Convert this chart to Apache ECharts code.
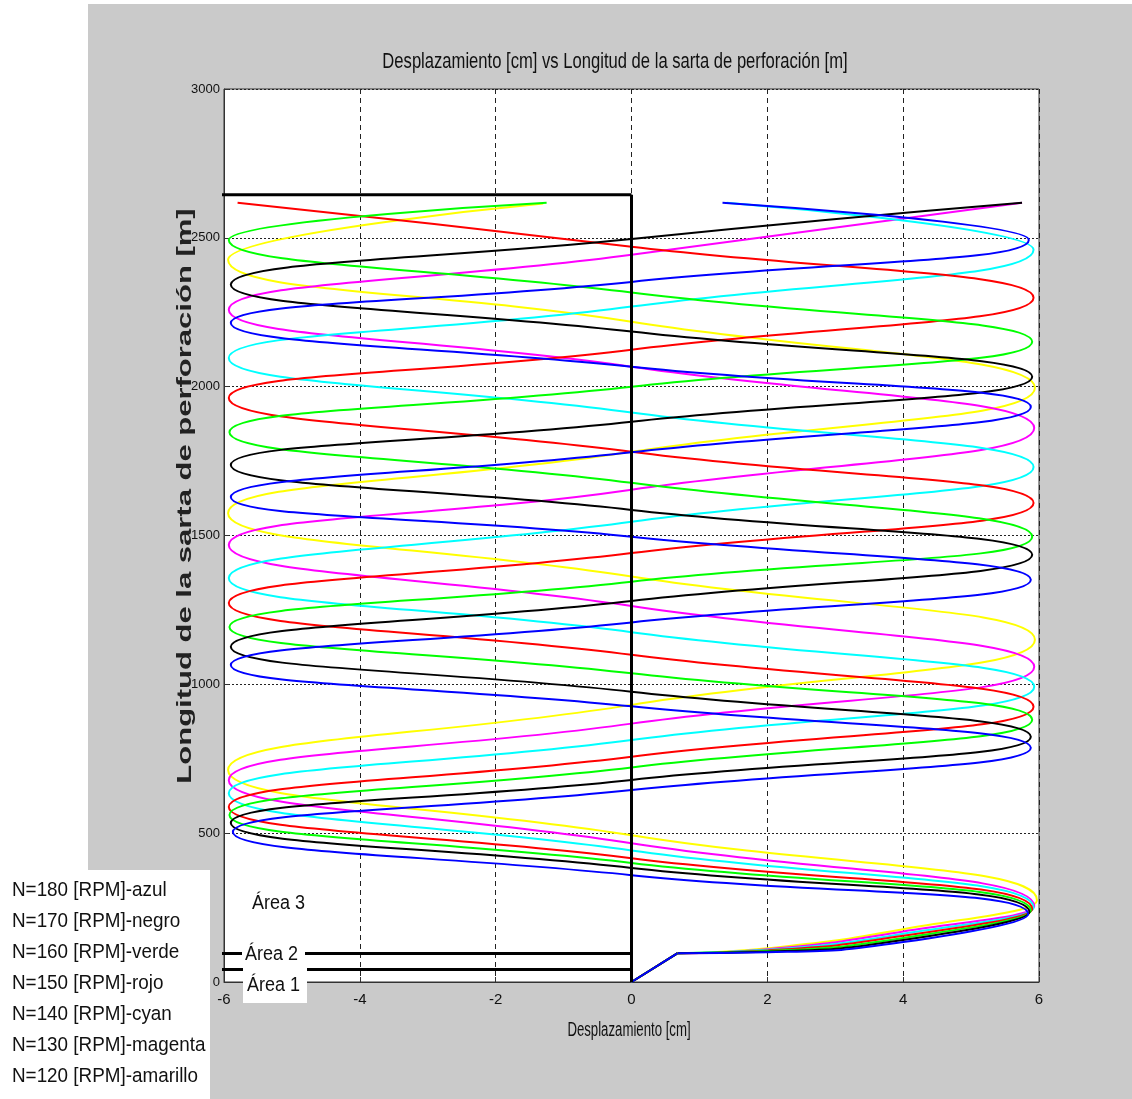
<!DOCTYPE html>
<html>
<head>
<meta charset="utf-8">
<script src="https://cdn.jsdelivr.net/npm/echarts@6/dist/echarts.min.js"></script>
<style>html,body{margin:0;padding:0;background:#fff}#c{width:1132px;height:1099px}</style>
</head>
<body>
<div id="c"></div>
<script>
// ---- data ----
const ticksX = [-6, -4, -2, 0, 2, 4, 6];
const ticksY = [0, 500, 1000, 1500, 2000, 2500, 3000];

const rpm = [120, 130, 140, 150, 160, 170, 180];
const nombresColor = ['amarillo', 'magenta', 'cyan', 'rojo', 'verde', 'negro', 'azul'];
const colores = ['#ffff00', '#ff00ff', '#00ffff', '#ff0000', '#00ff00', '#000000', '#0000ff'];

// linear start of every curve (Área 1 / Área 2)
const rampa = [[0, 0], [0.68, 97]];

// [displacement cm, length m]
const amarillo = [[0.68,97],[2,113],[4,177],[5.97,275],[0,493],[-5.94,712],[0,931],[5.94,1150],[0,1362],[-5.94,1575],[0,1781],[5.94,1996],[0,2218],[-5.94,2426],[-1.3,2615]];
const magenta = [[0.68,97],[2,110],[4,170],[5.93,255],[0,466],[-5.93,678],[0,868],[5.93,1059],[0,1263],[-5.93,1468],[0,1654],[5.93,1861],[0,2067],[-5.93,2258],[0,2443],[5.75,2618]];
const cyan = [[0.68,97],[2,108],[4,162],[5.92,250],[0,442],[-5.93,634],[0,813],[5.93,992],[0,1175],[-5.93,1357],[0,1546],[5.92,1730],[0,1913],[-5.93,2096],[0,2269],[5.92,2460],[1.4,2618]];
const rojo = [[0.68,97],[2,106],[4,155],[5.9,245],[0,416],[-5.93,588],[0,757],[5.92,925],[0,1099],[-5.93,1273],[0,1441],[5.92,1609],[0,1781],[-5.93,1962],[0,2124],[5.92,2299],[0,2470],[-5.8,2618]];
const verde = [[0.68,97],[2,104],[4,148],[5.88,240],[0,400],[-5.92,561],[0,721],[5.9,881],[0,1037],[-5.92,1193],[0,1345],[5.9,1496],[0,1677],[-5.92,1847],[0,2000],[5.9,2151],[0,2316],[-5.93,2493],[-1.25,2618]];
const negro = [[0.68,97],[2,102],[4,141],[5.86,235],[0,383],[-5.9,534],[0,679],[5.88,824],[0,975],[-5.9,1126],[0,1280],[5.9,1435],[0,1586],[-5.9,1737],[0,1882],[5.9,2033],[0,2185],[-5.9,2343],[0,2496],[5.75,2618]];
const azul = [[0.68,97],[2,100],[4,134],[5.84,228],[0,359],[-5.87,504],[0,645],[5.88,787],[0,926],[-5.9,1065],[0,1208],[5.88,1351],[0,1496],[-5.9,1629],[0,1780],[5.88,1932],[0,2067],[-5.9,2214],[0,2352],[5.85,2493],[1.34,2618]];

// black area boundaries
const lineaArea1 = [[-6.03, 42], [0, 42]];
const lineaArea2 = [[-6.03, 96], [0, 96]];
const lineaSuperior = [[-6.03, 2645], [0, 2645]];
const lineaCentral = [[0, 0], [0, 2645]];

const titulo = 'Desplazamiento [cm] vs Longitud de la sarta de perforación [m]';
const nombreEjeX = 'Desplazamiento [cm]';
const nombreEjeY = 'Longitud de la sarta de perforación [m]';
const etiquetasArea = ['Área 1', 'Área 2', 'Área 3'];

// ---- chart ----
const curvas = [amarillo, magenta, cyan, rojo, verde, negro, azul];
const nombres = rpm.map((r, i) => 'N=' + r + ' [RPM]-' + nombresColor[i]);

const series = [];
curvas.forEach((c, i) => {
  series.push({ name: nombres[i], type: 'line', data: rampa, showSymbol: false, smooth: false,
    lineStyle: { color: colores[i], width: 2 }, z: 2 });
});
curvas.forEach((c, i) => {
  series.push({ name: nombres[i], type: 'line', data: c, showSymbol: false, smooth: 0.5,
    lineStyle: { color: colores[i], width: 2 }, z: 2 });
});
[lineaArea1, lineaArea2, lineaSuperior, lineaCentral].forEach(l => {
  series.push({ type: 'line', data: l, showSymbol: false, clip: false,
    lineStyle: { color: '#000', width: 3 }, z: 4 });
});

const fuenteEje = "'Liberation Sans', Arial, sans-serif";
const graphic = [
  { type: 'rect', shape: { x: 0, y: 0, width: 88, height: 1099 }, style: { fill: '#ffffff' }, z: -10, silent: true },
  { type: 'rect', shape: { x: 0, y: 0, width: 1132, height: 4 }, style: { fill: '#ffffff' }, z: -10, silent: true },
  { type: 'rect', shape: { x: 0, y: 870, width: 210, height: 229 }, style: { fill: '#ffffff' }, z: 50, silent: true },
  { type: 'text', x: 615, y: 62, scaleX: 0.755, z: 60,
    style: { text: titulo, font: '22px "Liberation Sans"', fill: '#111', align: 'center', verticalAlign: 'middle' } },
  { type: 'text', x: 629, y: 1030, scaleX: 0.66, z: 60,
    style: { text: nombreEjeX, font: '20px "Liberation Sans"', fill: '#111', align: 'center', verticalAlign: 'middle' } },
  { type: 'text', x: 185, y: 496, rotation: Math.PI / 2, scaleX: 1.55, z: 60,
    style: { text: nombreEjeY, font: 'bold 20px "Liberation Sans"', fill: '#222', align: 'center', verticalAlign: 'middle' } },
  { type: 'rect', shape: { x: 242, y: 944, width: 63, height: 19 }, style: { fill: '#ffffff' }, z: 55, silent: true },
  { type: 'rect', shape: { x: 243, y: 968, width: 64, height: 35 }, style: { fill: '#ffffff' }, z: 55, silent: true },
  { type: 'text', x: 247, y: 985, scaleX: 0.9, z: 60,
    style: { text: etiquetasArea[0], font: '20px "Liberation Sans"', fill: '#111', align: 'left', verticalAlign: 'middle' } },
  { type: 'text', x: 245, y: 954, scaleX: 0.9, z: 60,
    style: { text: etiquetasArea[1], font: '20px "Liberation Sans"', fill: '#111', align: 'left', verticalAlign: 'middle' } },
  { type: 'text', x: 252, y: 903, scaleX: 0.9, z: 60,
    style: { text: etiquetasArea[2], font: '20px "Liberation Sans"', fill: '#111', align: 'left', verticalAlign: 'middle' } }
];
// legend text block (top line = fastest rotation)
nombres.slice().reverse().forEach((n, k) => {
  graphic.push({ type: 'text', x: 12, y: 890 + k * 31, scaleX: 0.92, z: 60,
    style: { text: n, font: '20.5px "Liberation Sans"', fill: '#111', align: 'left', verticalAlign: 'middle' } });
});

const option = {
  animation: false,
  backgroundColor: '#cacaca',
  grid: { left: 224, right: 93, top: 89, bottom: 117, show: true, backgroundColor: '#ffffff', borderColor: '#333', borderWidth: 1 },
  xAxis: {
    type: 'value', min: ticksX[0], max: ticksX[ticksX.length - 1], interval: 2,
    axisLine: { show: true, onZero: false, lineStyle: { color: '#333', width: 1 } },
    axisTick: { show: true, inside: true, length: 5, lineStyle: { color: '#333' } },
    axisLabel: { fontSize: 15, fontFamily: fuenteEje, color: '#111', margin: 10, formatter: v => String(v) },
    splitLine: { show: true, lineStyle: { color: '#222', type: [5, 4], width: 1 } }
  },
  yAxis: {
    type: 'value', min: ticksY[0], max: ticksY[ticksY.length - 1], interval: 500,
    axisLine: { show: true, onZero: false, lineStyle: { color: '#333', width: 1 } },
    axisTick: { show: true, inside: true, length: 5, lineStyle: { color: '#333' } },
    axisLabel: { fontSize: 13, fontFamily: fuenteEje, color: '#111', margin: 4, formatter: v => String(v) },
    splitLine: { show: true, lineStyle: { color: '#222', type: [2, 2], width: 1 } }
  },
  series: series,
  graphic: graphic
};

const chart = echarts.init(document.getElementById('c'), null, { renderer: 'canvas' });
chart.setOption(option);
</script>
</body>
</html>
